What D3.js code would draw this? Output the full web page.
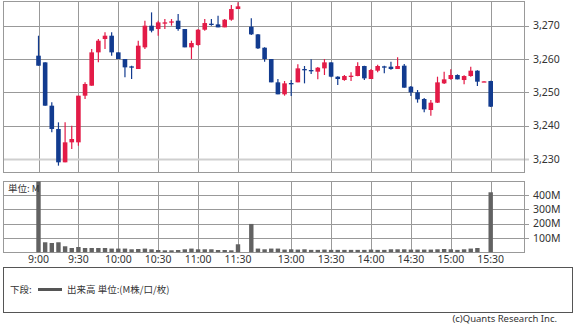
<!DOCTYPE html>
<html><head><meta charset="utf-8">
<script src="https://cdn.jsdelivr.net/npm/d3@7"></script>
<style>
html,body{margin:0;padding:0;background:#fff;}
svg{display:block;}
text{font-family:"Noto Sans","Noto Sans CJK JP",sans-serif;fill:#333;}
</style></head>
<body>
<svg id="chart" width="575" height="326"></svg>
<script>
const times = ["9:00","9:05","9:10","9:15","9:20","9:25","9:30","9:35","9:40","9:45","9:50","9:55",
"10:00","10:05","10:10","10:15","10:20","10:25","10:30","10:35","10:40","10:45","10:50","10:55",
"11:00","11:05","11:10","11:15","11:20","11:25","11:30",
"12:30","12:35","12:40","12:45","12:50","12:55",
"13:00","13:05","13:10","13:15","13:20","13:25","13:30","13:35","13:40","13:45","13:50","13:55",
"14:00","14:05","14:10","14:15","14:20","14:25","14:30","14:35","14:40","14:45","14:50","14:55",
"15:00","15:05","15:10","15:15","15:20","15:25","15:30"];
const open  = [3261,3259,3246,3239,3229,3235,3235,3249,3252,3262,3266,3267,3262,3260,3257.8,3257,3263.5,3270,3269,3270.7,3271,3271.5,3269,3263.5,3264.2,3268.8,3270.6,3270.4,3269.5,3271.8,3275,
3269.7,3267.4,3263.4,3260,3253,3249.4,3252.8,3253,3257,3256.7,3256.2,3257.2,3259,3254.7,3253.7,3254.8,3254.9,3257.9,3254,3256.5,3257.8,3257.7,3257,3258,3251.7,3250,3248,3244.7,3246.9,3252.7,3254,3255.2,3253.7,3254.9,3256.5,3253.2,3253.4];
const high  = [3267,3259,3247,3241,3241,3240,3249,3253,3263,3266,3268,3268,3262,3260,3258,3265.5,3271.5,3274,3271.5,3272,3272,3273.5,3269,3265.5,3269,3272,3272,3273,3272,3276.2,3277,
3272.2,3267.5,3263.5,3260,3254,3253.4,3253.7,3258.4,3257.9,3259.9,3257.6,3260,3259,3254.8,3255.2,3256,3259,3258,3257,3258.3,3258,3259.2,3260.5,3258.5,3251.9,3250.7,3248.3,3247.7,3254.7,3256.2,3256.9,3255.4,3255.1,3257.7,3256.6,3253.3,3253.5];
const low   = [3258,3246,3238,3228,3229,3233,3234,3248,3252,3259,3263,3261,3260,3254.5,3254,3257,3263,3268,3267,3269,3270,3268.5,3263.5,3260,3264,3268.5,3270,3269.5,3269.5,3271.5,3275,
3267.2,3263,3259.2,3253,3249.4,3249,3248.9,3253,3252.7,3255.5,3253.9,3255.2,3254.5,3252.2,3253.5,3253.4,3254.8,3253.7,3254,3256,3255.7,3256.8,3257,3251.4,3248.9,3246.9,3244,3243,3246.8,3252.5,3253.8,3253.9,3252.4,3254.7,3251.9,3253.1,3245.6];
const close = [3258,3246,3239,3229,3235,3236,3249,3252.5,3262,3265.5,3267,3262,3260,3257.5,3257.4,3264,3270,3268.5,3271,3271,3271.3,3269,3263.5,3264.8,3268.8,3270.8,3270.4,3269.5,3271.8,3275,3275.8,
3267.4,3263.2,3260,3253,3249.4,3252.7,3252.6,3257.2,3256.8,3256.5,3257.4,3259,3254.7,3254,3254.9,3255,3257.9,3254.2,3256.7,3257.9,3257.5,3257,3257.9,3251.4,3250,3247.9,3244.9,3246.9,3253,3253.9,3255.2,3253.9,3254.9,3256.5,3253.2,3253.3,3245.7];
const volume = [500,70,65,70,42,30,37,30,30,30,30,26,26,26,21,23,26,21,16,14,14,16,21,26,21,21,21,16,16,14,56,
198,26,21,26,26,19,21,19,21,17,17,19,17,17,17,17,17,17,19,17,17,21,21,21,19,19,19,19,21,23,21,17,21,26,30,0,419];
const xTickLabels = ["9:00","9:30","10:00","10:30","11:00","11:30","13:00","13:30","14:00","14:30","15:00","15:30"];
const priceTicks = [3230,3240,3250,3260,3270];
const volumeTicks = [100,200,300,400];

// session-aware slot mapping: morning 9:00-11:30, afternoon from 12:30 after a one-slot gap
function slot(t){
  const [h,m] = t.split(":").map(Number);
  const mins = h*60+m;
  return mins <= 690 ? (mins-540)/5 : (mins-750)/5 + 32;
}

const svg = d3.select("#chart");
const L = 3, R = 525;
const mainTop = 1, mainBot = 172;
const volTop = 181.5, volBot = 252.5;
const red = "#e31b47", blue = "#123b8f";

const x = d3.scaleLinear().domain([0,68]).range([38.5,490.7]);
const y = d3.scaleLinear().domain([3230,3270]).range([159,25.7]);
const yv = d3.scaleLinear().domain([0,400]).range([252.3,195]);

// ---- main panel grid
const g = svg.append("g");
g.selectAll("line.vg").data(xTickLabels).join("line")
  .attr("x1",d=>Math.round(x(slot(d)))+0.5).attr("x2",d=>Math.round(x(slot(d)))+0.5)
  .attr("y1",mainTop).attr("y2",mainBot).attr("stroke","#999").attr("stroke-width",1);
g.selectAll("line.hg").data(priceTicks).join("line")
  .attr("x1",L).attr("x2",R+4)
  .attr("y1",d=>Math.round(y(d))+0.5).attr("y2",d=>Math.round(y(d))+0.5)
  .attr("stroke",d=>d===3230?"#cfcfcf":"#999").attr("stroke-width",d=>d===3230?2:1);
g.append("rect").attr("x",L+0.5).attr("y",mainTop+0.5).attr("width",R-L-1).attr("height",mainBot-mainTop)
  .attr("fill","none").attr("stroke","#999");
g.selectAll("text.py").data(priceTicks).join("text")
  .attr("x",533).attr("y",d=>y(d)).attr("dy","0.35em")
  .attr("font-size",10.5).text(d=>d3.format(",")(d));

// ---- candles
const cd = times.map((t,i)=>({t,o:open[i],h:high[i],l:low[i],c:close[i]}));
const cg = svg.append("g").attr("clip-path","url(#clipMain)");
svg.append("clipPath").attr("id","clipMain").append("rect")
  .attr("x",L).attr("y",0).attr("width",R-L).attr("height",mainBot);
const bw = 4.6;
cg.selectAll("line.wick").data(cd).join("line")
  .attr("x1",d=>x(slot(d.t))).attr("x2",d=>x(slot(d.t)))
  .attr("y1",d=>y(d.h)).attr("y2",d=>y(d.l))
  .attr("stroke",d=>d.c>=d.o?red:blue).attr("stroke-width",1.2);
cg.selectAll("rect.body").data(cd).join("rect")
  .attr("x",d=>x(slot(d.t))-bw/2).attr("width",bw)
  .attr("y",d=>y(Math.max(d.o,d.c)))
  .attr("height",d=>Math.max(1.3,Math.abs(y(d.o)-y(d.c))))
  .attr("fill",d=>d.c>=d.o?red:blue);

// ---- volume panel
const vg = svg.append("g");
vg.selectAll("line.vvg").data(xTickLabels).join("line")
  .attr("x1",d=>Math.round(x(slot(d)))+0.5).attr("x2",d=>Math.round(x(slot(d)))+0.5)
  .attr("y1",volTop).attr("y2",volBot).attr("stroke","#999");
vg.selectAll("line.vhg").data(volumeTicks).join("line")
  .attr("x1",L).attr("x2",R+4)
  .attr("y1",d=>Math.round(yv(d))+0.5).attr("y2",d=>Math.round(yv(d))+0.5)
  .attr("stroke","#999");
vg.append("rect").attr("x",L+0.5).attr("y",volTop).attr("width",R-L-1).attr("height",volBot-volTop)
  .attr("fill","none").attr("stroke","#999");
svg.append("clipPath").attr("id","clipVol").append("rect")
  .attr("x",L).attr("y",volTop).attr("width",R-L).attr("height",volBot-volTop);
vg.append("g").attr("clip-path","url(#clipVol)")
  .selectAll("rect").data(times.map((t,i)=>({t,v:volume[i]})).filter(d=>d.v>0)).join("rect")
  .attr("x",d=>x(slot(d.t))-2.2).attr("width",4.4)
  .attr("y",d=>yv(d.v)).attr("height",d=>yv(0)-yv(d.v))
  .attr("fill","#626262");
vg.selectAll("text.vy").data(volumeTicks).join("text")
  .attr("x",533).attr("y",d=>yv(d)).attr("dy","0.35em")
  .attr("font-size",10.5).text(d=>d+"M");
vg.append("text").attr("x",8).attr("y",192).attr("font-size",9.5)
  .style("font-family","'Noto Sans CJK JP',sans-serif").text("単位: M");

// x labels
svg.selectAll("text.xl").data(xTickLabels).join("text")
  .attr("x",d=>x(slot(d))).attr("y",262.5).attr("text-anchor","middle")
  .attr("font-size",10.5).text(d=>d);

// ---- legend
svg.append("rect").attr("x",3.5).attr("y",267.5).attr("width",569).attr("height",45)
  .attr("fill","none").attr("stroke","#555");
svg.append("text").attr("x",10).attr("y",290).attr("dy","0.35em").attr("font-size",9.5)
  .style("font-family","'Noto Sans CJK JP',sans-serif").text("下段:");
svg.append("line").attr("x1",38).attr("x2",62).attr("y1",289.5).attr("y2",289.5)
  .attr("stroke","#555").attr("stroke-width",3);
svg.append("text").attr("x",67).attr("y",290).attr("dy","0.35em").attr("font-size",9.5)
  .style("font-family","'Noto Sans CJK JP',sans-serif").text("出来高 単位:(M株/口/枚)");
svg.append("text").attr("x",557).attr("y",322).attr("text-anchor","end").attr("font-size",9.5)
  .attr("fill","#555").text("(c)Quants Research Inc.");
</script>
</body></html>
